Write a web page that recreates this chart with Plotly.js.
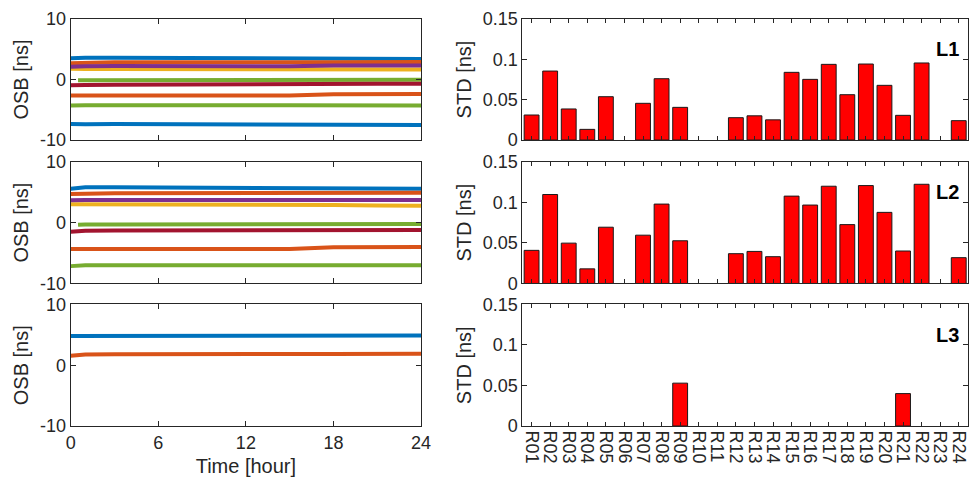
<!DOCTYPE html>
<html>
<head>
<meta charset="utf-8">
<script src="https://cdn.plot.ly/plotly-3.0.1.min.js"></script>
<style>html,body{margin:0;padding:0;background:#fff;}#chart{width:969px;height:484px;}</style>
</head>
<body>
<div id="chart"></div>
<script>
// ---------- data ----------
const hours = [0, 0.5, 1, 3, 6, 9, 12, 15, 18, 21, 24];

// L1 OSB series
const l1_blue_a   = [3.5, 3.6, 3.6, 3.6, 3.55, 3.5, 3.5, 3.45, 3.45, 3.4, 3.4];
const l1_orange_a = [2.7, 2.75, 2.8, 2.85, 2.85, 2.9, 2.9, 2.85, 2.85, 2.9, 2.9];
const l1_yellow   = [1.8, 1.75, 1.75, 1.75, 1.75, 1.75, 1.7, 1.7, 1.7, 1.65, 1.65];
const l1_purple   = [2.1, 2.2, 2.2, 2.25, 2.2, 2.2, 2.2, 2.2, 2.3, 2.3, 2.3];
const l1_green_a  = [null, -0.1, -0.1, -0.05, -0.05, -0.05, 0, 0, -0.05, -0.05, -0.05];
const l1_darkred  = [-0.95, -0.9, -0.9, -0.85, -0.8, -0.8, -0.75, -0.75, -0.7, -0.7, -0.7];
const l1_orange_b = [-2.65, -2.65, -2.65, -2.65, -2.7, -2.7, -2.7, -2.65, -2.45, -2.4, -2.4];
const l1_green_b  = [-4.3, -4.25, -4.25, -4.25, -4.2, -4.25, -4.25, -4.25, -4.25, -4.3, -4.3];
const l1_blue_b   = [-7.35, -7.4, -7.4, -7.35, -7.35, -7.35, -7.35, -7.4, -7.35, -7.45, -7.5];

// L2 OSB series
const l2_blue_a   = [5.55, 5.7, 5.8, 5.8, 5.75, 5.7, 5.7, 5.65, 5.6, 5.6, 5.55];
const l2_orange_a = [4.7, 4.75, 4.75, 4.8, 4.8, 4.85, 4.85, 4.85, 4.85, 4.9, 4.9];
const l2_yellow   = [3.0, 3.0, 3.0, 3.0, 3.0, 3.0, 3.0, 2.95, 2.9, 2.8, 2.75];
const l2_purple   = [3.65, 3.7, 3.7, 3.7, 3.7, 3.7, 3.7, 3.7, 3.7, 3.7, 3.7];
const l2_green_a  = [null, -0.35, -0.3, -0.3, -0.3, -0.25, -0.25, -0.2, -0.2, -0.25, -0.25];
const l2_darkred  = [-1.5, -1.4, -1.35, -1.3, -1.3, -1.3, -1.3, -1.25, -1.25, -1.2, -1.2];
const l2_orange_b = [-4.35, -4.35, -4.35, -4.35, -4.4, -4.4, -4.4, -4.35, -4.05, -4.0, -4.0];
const l2_green_b  = [-7.15, -7.0, -7.0, -7.0, -7.0, -7.0, -7.0, -7.0, -7.0, -7.0, -7.0];

// L3 OSB series
const l3_blue_a   = [4.8, 4.8, 4.8, 4.8, 4.85, 4.85, 4.85, 4.85, 4.85, 4.9, 4.9];
const l3_orange_a = [1.55, 1.65, 1.75, 1.8, 1.85, 1.85, 1.85, 1.85, 1.85, 1.9, 1.9];

// STD per station
const stations = ["R01","R02","R03","R04","R05","R06","R07","R08","R09","R10","R11","R12",
                  "R13","R14","R15","R16","R17","R18","R19","R20","R21","R22","R23","R24"];
const std_L1 = [0.031, 0.0855, 0.0385, 0.0132, 0.0537, null, 0.0455, 0.076, 0.0405, null, null, 0.0277,
                0.030, 0.025, 0.0839, 0.0752, 0.0938, 0.0562, 0.0942, 0.0678, 0.0306, 0.0955, null, 0.024];
const std_L2 = [0.0408, 0.1096, 0.0497, 0.018, 0.0693, null, 0.0595, 0.0978, 0.0526, null, null, 0.0367,
                0.0395, 0.033, 0.1076, 0.0966, 0.1198, 0.0725, 0.1206, 0.0876, 0.040, 0.1222, null, 0.0318];
const std_L3 = [null, null, null, null, null, null, null, null, 0.0529, null, null, null,
                null, null, null, null, null, null, null, null, 0.040, null, null, null];

const panelLabels = ["L1", "L2", "L3"];
const timeTicks = [0, 6, 12, 18, 24];
const osbTicks = [-10, 0, 10];
const osbTickText = ["-10", "0", "10"];
const stdTicks = [0, 0.05, 0.1, 0.15];
const stdTickText = ["0", "0.05", "0.1", "0.15"];

// ---------- styles ----------
const C = {blue:"#0072BD", orange:"#D95319", yellow:"#EDB120", purple:"#7E2F8E",
           green:"#77AC30", darkred:"#A2142F"};
const FONT = "'Liberation Sans', Arial, sans-serif";
const AX = "#262626";

function line(x, y, color, xa, ya) {
  return {x: x, y: y, type: "scatter", mode: "lines", xaxis: xa, yaxis: ya,
          line: {color: color, width: 4}, connectgaps: false, showlegend: false, hoverinfo: "skip"};
}
function bars(vals, xa, ya) {
  return {x: stations, y: vals, type: "bar", xaxis: xa, yaxis: ya, width: 0.8,
          marker: {color: "#FF0000", line: {color: "#1a1a1a", width: 1}}, showlegend: false};
}

const traces = [
  line(hours, l1_blue_a, C.blue, "x", "y"),
  line(hours, l1_orange_a, C.orange, "x", "y"),
  line(hours, l1_yellow, C.yellow, "x", "y"),
  line(hours, l1_purple, C.purple, "x", "y"),
  line(hours, l1_green_a, C.green, "x", "y"),
  line(hours, l1_darkred, C.darkred, "x", "y"),
  line(hours, l1_orange_b, C.orange, "x", "y"),
  line(hours, l1_green_b, C.green, "x", "y"),
  line(hours, l1_blue_b, C.blue, "x", "y"),

  line(hours, l2_blue_a, C.blue, "x3", "y3"),
  line(hours, l2_orange_a, C.orange, "x3", "y3"),
  line(hours, l2_yellow, C.yellow, "x3", "y3"),
  line(hours, l2_purple, C.purple, "x3", "y3"),
  line(hours, l2_green_a, C.green, "x3", "y3"),
  line(hours, l2_darkred, C.darkred, "x3", "y3"),
  line(hours, l2_orange_b, C.orange, "x3", "y3"),
  line(hours, l2_green_b, C.green, "x3", "y3"),

  line(hours, l3_blue_a, C.blue, "x5", "y5"),
  line(hours, l3_orange_a, C.orange, "x5", "y5"),

  bars(std_L1, "x2", "y2"),
  bars(std_L2, "x4", "y4"),
  bars(std_L3, "x6", "y6")
];

const xL = [0.0730, 0.4345], xR = [0.5390, 0.9990];
const rows = [[0.7107, 0.9607], [0.4143, 0.6659], [0.1198, 0.3709]];
const tickFont = {family: FONT, size: 18, color: AX};
const titleFont = {family: FONT, size: 20, color: AX};

function base() {
  return {showline: true, linecolor: AX, linewidth: 1, mirror: "allticks", ticks: "inside",
          ticklen: 5, tickcolor: AX, showgrid: false, zeroline: false, tickfont: tickFont,
          automargin: false, fixedrange: true};
}

const layout = {
  width: 969, height: 484, margin: {l: 0, r: 0, t: 0, b: 0},
  paper_bgcolor: "#fff", plot_bgcolor: "#fff", showlegend: false, bargap: 0.2,
  font: {family: FONT, color: AX},
  annotations: []
};

for (let r = 0; r < 3; r++) {
  const li = 2 * r + 1, ri = 2 * r + 2;
  const lx = "xaxis" + (li === 1 ? "" : li), ly = "yaxis" + (li === 1 ? "" : li);
  const rx = "xaxis" + ri, ry = "yaxis" + ri;
  layout[lx] = Object.assign(base(), {domain: xL, anchor: "y" + (li === 1 ? "" : li),
    range: [0, 24], tickvals: timeTicks, showticklabels: r === 2});
  layout[ly] = Object.assign(base(), {domain: rows[r], anchor: "x" + (li === 1 ? "" : li),
    range: [-10, 10], tickvals: osbTicks, ticktext: osbTickText,
    title: {text: "OSB [ns]", font: titleFont, standoff: 6}});
  layout[rx] = Object.assign(base(), {domain: xR, anchor: "y" + ri, type: "category",
    range: [-0.5, 23.5], tickvals: stations, ticklen: 4, tickangle: 90, showticklabels: r === 2});
  layout[ry] = Object.assign(base(), {domain: rows[r], anchor: "x" + ri,
    range: [0, 0.15], tickvals: stdTicks, ticktext: stdTickText,
    title: {text: "STD [ns]", font: titleFont, standoff: 5}});
  layout.annotations.push({text: "<b>" + panelLabels[r] + "</b>", xref: "x" + ri + " domain",
    yref: "y" + ri + " domain", x: 0.985, y: 0.75, xanchor: "right", yanchor: "middle",
    showarrow: false, font: {family: FONT, size: 20, color: "#000"}});
}
layout.xaxis5.title = {text: "Time [hour]", font: titleFont, standoff: 7};

Plotly.newPlot("chart", traces, layout, {staticPlot: true, displayModeBar: false});
</script>
</body>
</html>
